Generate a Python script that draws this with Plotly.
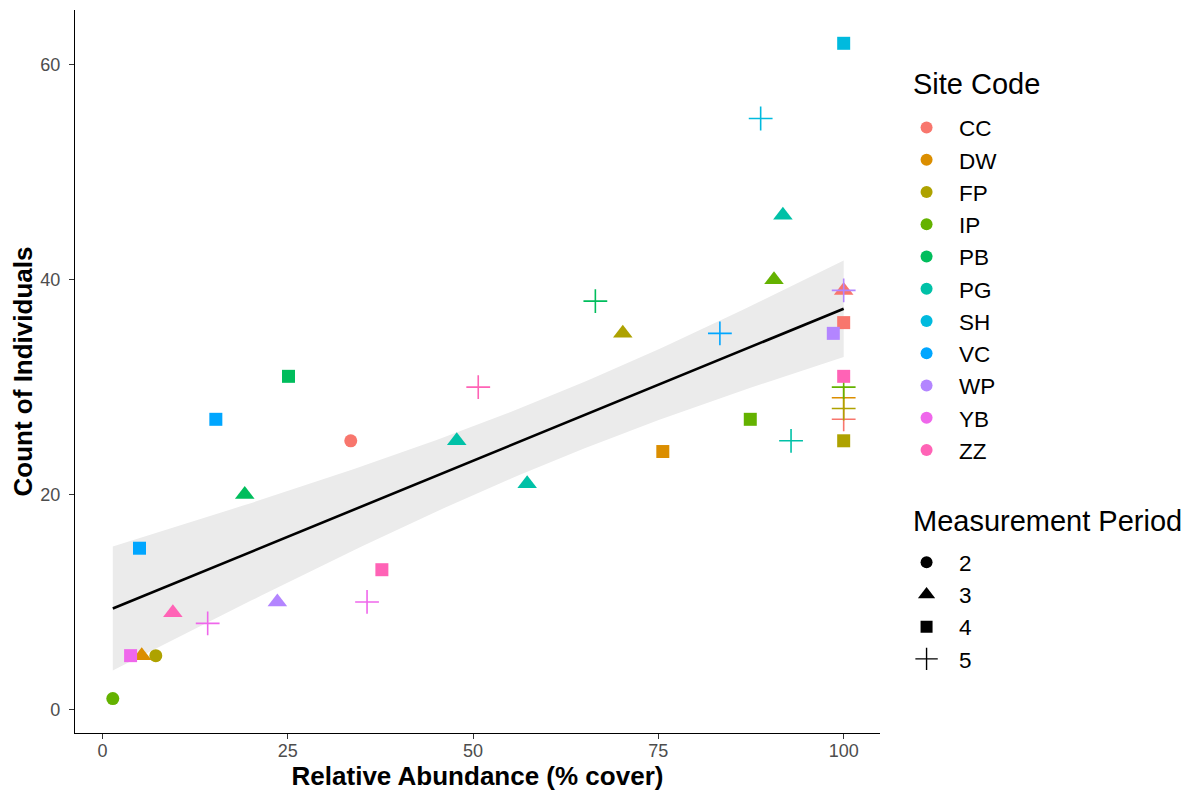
import numpy as np
import plotly.graph_objects as go

# ---------------- data ----------------
site_levels = ["CC", "DW", "FP", "IP", "PB", "PG", "SH", "VC", "WP", "YB", "ZZ"]
site_colors = ["#F8766D", "#DB8E00", "#AEA200", "#64B200", "#00BD5C", "#00C1A7",
               "#00BADE", "#00A6FF", "#B385FF", "#EF67EB", "#FF63B6"]
period_levels = ["2", "3", "4", "5"]

site = ["CC", "CC", "CC", "CC",
        "DW", "DW", "DW",
        "FP", "FP", "FP", "FP",
        "IP", "IP", "IP", "IP",
        "PB", "PB", "PB",
        "PG", "PG", "PG", "PG",
        "SH", "SH",
        "VC", "VC", "VC",
        "WP", "WP", "WP",
        "YB", "YB", "YB",
        "ZZ", "ZZ", "ZZ", "ZZ"]
rel_abundance = [33.5, 100, 100, 100,
                 5.3, 75.6, 100,
                 7.2, 70.2, 100, 100,
                 1.4, 90.6, 87.4, 100,
                 19.2, 25.1, 66.5,
                 47.8, 57.3, 91.8, 92.9,
                 88.8, 100,
                 5.0, 15.3, 83.3,
                 23.6, 98.6, 100,
                 3.8, 14.2, 35.7,
                 9.5, 37.7, 50.7, 100]
count = [25, 39, 36, 27,
         5, 24, 29,
         5, 35, 25, 28,
         1, 40, 27, 30,
         20, 31, 38,
         25, 21, 46, 25,
         55, 62,
         15, 27, 35,
         10, 35, 39,
         5, 8, 10,
         9, 13, 30, 31]
period = ["2", "3", "4", "5",
          "3", "4", "5",
          "2", "3", "4", "5",
          "2", "3", "4", "5",
          "3", "4", "5",
          "3", "3", "3", "5",
          "5", "4",
          "4", "4", "5",
          "3", "4", "5",
          "4", "5", "5",
          "3", "4", "5", "4"]

# ---------------- styles ----------------
sym_map = {"2": "circle", "3": "triangle-up", "4": "square", "5": "cross-thin"}
size_map = {"2": 13, "3": 17, "4": 13, "5": 17}

x = np.array(rel_abundance, dtype=float)
y = np.array(count, dtype=float)

# ---------------- linear fit with 95% CI ----------------
n = len(x)
xbar = x.mean()
Sxx = ((x - xbar) ** 2).sum()
slope = ((x - xbar) * (y - y.mean())).sum() / Sxx
intercept = y.mean() - slope * xbar
resid = y - (intercept + slope * x)
s = np.sqrt((resid ** 2).sum() / (n - 2))
t_crit = 2.028  # t(0.975, df = 35)
xs = np.linspace(x.min(), x.max(), 80)
fit = intercept + slope * xs
se = s * np.sqrt(1.0 / n + (xs - xbar) ** 2 / Sxx)
upper = fit + t_crit * se
lower = fit - t_crit * se

fig = go.Figure()

fig.add_trace(go.Scatter(
    x=np.concatenate([xs, xs[::-1]]), y=np.concatenate([upper, lower[::-1]]),
    fill="toself", fillcolor="#EBEBEB", line=dict(width=0), mode="lines",
    showlegend=False, hoverinfo="skip"))
fig.add_trace(go.Scatter(x=xs, y=fit, mode="lines", line=dict(color="black", width=2.6),
                         showlegend=False, hoverinfo="skip"))

# points, grouped by site
for s_name, col in zip(site_levels, site_colors):
    idx = [i for i, v in enumerate(site) if v == s_name]
    fig.add_trace(go.Scatter(
        x=[rel_abundance[i] for i in idx],
        y=[count[i] for i in idx],
        mode="markers",
        marker=dict(
            color=col, opacity=1,
            symbol=[sym_map[period[i]] for i in idx],
            size=[size_map[period[i]] for i in idx],
            line=dict(color=col, width=[1.6 if period[i] == "5" else 0 for i in idx]),
        ),
        showlegend=False, name=s_name))

pad = "\u00a0\u00a0"
# legend entries: Site Code
for s_name, col in zip(site_levels, site_colors):
    fig.add_trace(go.Scatter(x=[None], y=[None], mode="markers", name=pad + s_name,
                             marker=dict(color=col, symbol="circle", size=12),
                             legend="legend"))
# legend entries: Measurement Period
leg_sizes = {"2": 12, "3": 15, "4": 12, "5": 16}
for p in period_levels:
    fig.add_trace(go.Scatter(x=[None], y=[None], mode="markers", name=pad + p,
                             marker=dict(color="black", symbol=sym_map[p], size=leg_sizes[p],
                                         line=dict(color="black", width=1.4 if p == "5" else 0)),
                             legend="legend2"))

font_family = "Liberation Sans, Arial, sans-serif"
fig.update_layout(
    width=1184, height=788,
    margin=dict(l=67, r=312, t=2, b=63),
    paper_bgcolor="white", plot_bgcolor="white",
    font=dict(family=font_family, color="black"),
    legend=dict(font=dict(size=22.5), x=1.033, xanchor="left", y=0.8667, yanchor="top",
                bgcolor="rgba(0,0,0,0)", itemsizing="trace"),
    legend2=dict(font=dict(size=22.5), x=1.033, xanchor="left", y=0.2655, yanchor="top",
                 bgcolor="rgba(0,0,0,0)", itemsizing="trace"),
    annotations=[
        dict(text="Site Code", xref="paper", yref="paper", x=1.0385, y=0.8977,
             xanchor="left", yanchor="middle", showarrow=False, font=dict(size=29)),
        dict(text="Measurement Period", xref="paper", yref="paper", x=1.0385, y=0.2932,
             xanchor="left", yanchor="middle", showarrow=False, font=dict(size=29)),
    ],
)
fig.update_xaxes(
    range=[-3.7, 104.9], tickvals=[0, 25, 50, 75, 100],
    showline=True, linecolor="black", linewidth=1.2, mirror=False, automargin=False,
    ticks="outside", ticklen=5, tickcolor="#333333", showgrid=False, zeroline=False,
    tickfont=dict(size=18, color="#4D4D4D"), ticklabelstandoff=-4,
    title=dict(text="<b>Relative Abundance (% cover)</b>", font=dict(size=26), standoff=6))
fig.update_yaxes(
    range=[-2.2, 65.1], tickvals=[0, 20, 40, 60],
    showline=True, linecolor="black", linewidth=1.2, automargin=False,
    ticks="outside", ticklen=5, tickcolor="#333333", showgrid=False, zeroline=False,
    tickfont=dict(size=18, color="#4D4D4D"), ticklabelstandoff=5,
    title=dict(text="<b>Count of Individuals</b>", font=dict(size=26), standoff=3))

fig.write_html("out.html")
